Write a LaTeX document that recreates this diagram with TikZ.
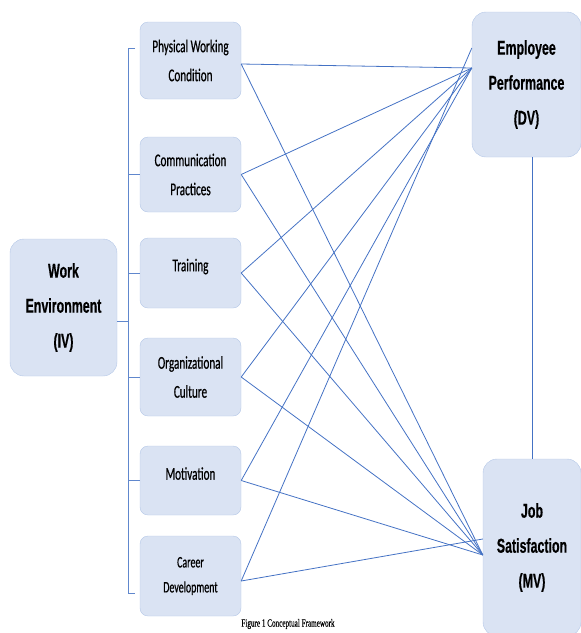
\documentclass[tikz,border=0pt]{standalone}
\usepackage{fontspec}
\setmainfont{Liberation Serif}
\newfontfamily\boxfont[FakeStretch=0.62,FakeBold=0.6]{Carlito}
\newfontfamily\headfont[FakeStretch=0.62,FakeBold=0.5]{Liberation Sans}
\newfontfamily\capfont[FakeStretch=0.65,FakeBold=0.4]{Liberation Serif}
\usetikzlibrary{positioning}
\definecolor{boxfill}{HTML}{DAE3F3}
\definecolor{boxline}{HTML}{B4C7E7}
\definecolor{linkblue}{HTML}{4472C4}
\tikzset{
    factor/.style={
        draw=boxline,
        fill=boxfill,
        rounded corners=8pt,
        minimum width=101pt,
        inner sep=0pt,
        align=center,
        font=\boxfont\fontsize{18}{29}\selectfont
    },
    mainbox/.style={
        draw=boxline,
        fill=boxfill,
        rounded corners=14pt,
        inner sep=0pt,
        align=center,
        font=\headfont\bfseries\fontsize{20}{35}\selectfont
    },
    link/.style={draw=linkblue, line width=0.8pt},
    bracket/.style={draw=linkblue!85, line width=1pt}
}

\begin{document}
\begin{tikzpicture}[x=1pt,y=-1pt]
  \useasboundingbox (0,0) rectangle (581,633);

  \node[mainbox, minimum width=107pt, minimum height=137pt] (we) at (63.5,307.5) {Work\\Environment\\(IV)};

  \node[factor, minimum height=77pt] (pwc) at (190.5,60.5) {Physical Working\\Condition};
  \node[factor, minimum height=75pt] (cp) at (190.5,174.5) {Communication\\Practices};
  \node[factor, minimum height=70pt, text depth=16pt] (tr) at (190.5,273) {Training};
  \node[factor, minimum height=78pt] (oc) at (190.5,377) {Organizational\\Culture};
  \node[factor, minimum height=69pt, text depth=14pt] (mo) at (190.5,480.5) {Motivation};
  \node[factor, minimum height=80pt, font=\boxfont\fontsize{16}{25}\selectfont] (cd) at (190.5,576) {Career\\Development};

  \node[mainbox, minimum width=109pt, minimum height=145pt] (dv) at (526.5,84.5) {Employee\\Performance\\(DV)};
  \node[mainbox, minimum width=98pt, minimum height=177pt] (mv) at (532,547.5) {Job\\Satisfaction\\(MV)};

  \node[font=\capfont\fontsize{11}{13}\selectfont] (cap) at (288,624) {Figure 1 Conceptual Framework};

  % bracket
  \coordinate (brtop) at (128,48);
  \coordinate (brbot) at (128,593);
  \draw[bracket] ([xshift=7pt]brtop) -- (brtop) -- (brbot) -- ([xshift=7pt]brbot);
  \draw[bracket] ([yshift=-14pt]we.east) -- ++(11,0);
  \draw[bracket] (cp.west) -- (cp.west -| brtop);
  \draw[bracket] (tr.west) -- (tr.west -| brtop);
  \draw[bracket] (oc.west) -- (oc.west -| brtop);
  \draw[bracket] (mo.west) -- (mo.west -| brtop);

  % ends on the two outcomes
  \coordinate (dvin) at ([yshift=16.5pt]dv.west);
  \coordinate (dvtop) at ([yshift=36.5pt]dv.west);
  \coordinate (mvin) at ([yshift=-7.5pt]mv.west);
  \coordinate (mvtop) at ([yshift=8.5pt]mv.west);

  \draw[link] ([yshift=-3.5pt]pwc.east) -- (dvin);
  \draw[link] ([yshift=-3.5pt]pwc.east) -- (mvin);
  \draw[link] (cp.east) -- (dvin);
  \draw[link] (cp.east) -- (mvin);
  \draw[link] (tr.east) -- (dvin);
  \draw[link] (tr.east) -- (mvin);
  \draw[link] (oc.east) -- (dvin);
  \draw[link] (oc.east) -- (mvin);
  \draw[link] (mo.east) -- (dvin);
  \draw[link] (mo.east) -- (mvin);
  \draw[link] ([yshift=-5pt]cd.east) -- (dvtop);
  \draw[link] ([yshift=-5pt]cd.east) -- (mvtop);

  \draw[link] (dv.south -| mv) -- (mv.north);

\end{tikzpicture}
\end{document}
